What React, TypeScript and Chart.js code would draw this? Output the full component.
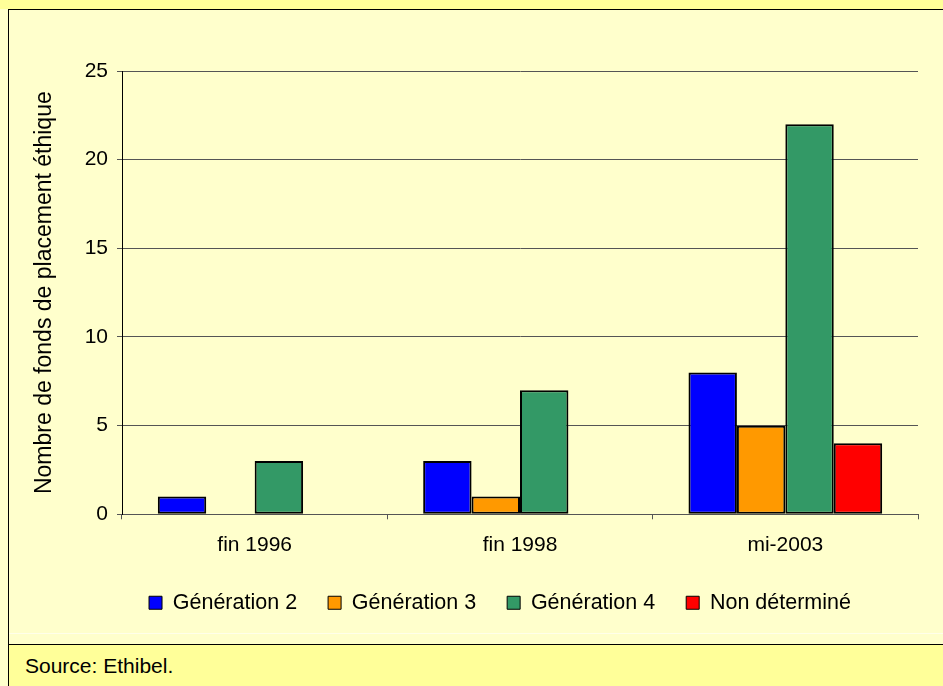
import React, { useEffect, useRef } from "react";
import { Chart, registerables } from "chart.js";

Chart.register(...registerables);

const categories = ["fin 1996", "fin 1998", "mi-2003"];
const generation2 = [1, 3, 8];
const generation3 = [null, 1, 5];
const generation4 = [3, 7, 22];
const nonDetermine = [null, null, 4];
const seriesNames = ["Génération 2", "Génération 3", "Génération 4", "Non déterminé"];
const seriesColors = ["#0000FF", "#FF9900", "#339966", "#FF0000"];
const yTitle = "Nombre de fonds de placement éthique";
const sourceText = "Source: Ethibel.";

const FONT = "'Liberation Sans', Arial, Helvetica, sans-serif";

export default function App() {
  const ref = useRef<HTMLCanvasElement | null>(null);

  useEffect(() => {
    if (!ref.current) return;
    const values = [generation2, generation3, generation4, nonDetermine];
    const padLeft = 73;
    const chart = new Chart(ref.current, {
      type: "bar",
      data: {
        labels: categories,
        datasets: values.map((v, i) => ({
          label: seriesNames[i],
          data: v as any,
          backgroundColor: seriesColors[i],
          borderColor: "#000000",
          borderWidth: 2,
          borderSkipped: false,
          barPercentage: 1,
          categoryPercentage: 0.73,
        })),
      },
      options: {
        animation: false,
        responsive: false,
        maintainAspectRatio: false,
        devicePixelRatio: 1,
        layout: { padding: { left: padLeft, right: 25, top: 61, bottom: 19.5 } },
        plugins: {
          tooltip: { enabled: false },
          legend: {
            position: "bottom",
            labels: {
              color: "#000",
              font: { family: FONT, size: 21.5 },
              boxWidth: 13,
              boxHeight: 13,
              padding: 31,
              generateLabels: (c: any) =>
                Chart.defaults.plugins.legend.labels
                  .generateLabels(c)
                  .map((l: any) => ({ ...l, lineWidth: 1 })),
            },
          },
        },
        scales: {
          x: {
            offset: true,
            afterFit: (s: any) => {
              s.height = s.height - 9.5;
            },
            grid: {
              display: true,
              drawOnChartArea: false,
              drawTicks: true,
              tickLength: 5,
              color: "#555555",
            },
            border: { display: true, color: "#555555", width: 1 },
            ticks: {
              color: "#000",
              font: { family: FONT, size: 21 },
              padding: 13,
              maxRotation: 0,
            },
          },
          y: {
            min: 0,
            max: 25,
            afterFit: (s: any) => {
              s.width = 113 - padLeft;
            },
            grid: {
              color: "#555555",
              tickLength: 5,
              drawTicks: true,
            },
            border: { display: true, color: "#000000", width: 1 },
            ticks: {
              stepSize: 5,
              color: "#000",
              padding: 9,
              font: { family: FONT, size: 21 },
            },
            title: {
              display: true,
              text: yTitle,
              color: "#000",
              font: { family: FONT, size: 23, weight: "normal" },
              padding: { top: 36 - padLeft - 13.8, bottom: 0 },
            },
          },
        },
      },
    });
    return () => chart.destroy();
  }, []);

  return (
    <div
      style={{
        position: "absolute",
        left: 0,
        top: 0,
        width: 943,
        height: 686,
        background: "#FFFFCC",
        overflow: "hidden",
        fontFamily: FONT,
      }}
    >
      <div style={{ position: "absolute", left: 0, top: 0, width: 943, height: 9, background: "#FFFF99" }} />
      <div style={{ position: "absolute", left: 8, top: 9, width: 935, height: 1, background: "#000" }} />
      <div style={{ position: "absolute", left: 8, top: 9, width: 1, height: 677, background: "#000" }} />
      <div style={{ position: "absolute", left: 9, top: 633, width: 934, height: 1, background: "#FFFFEA" }} />
      <div style={{ position: "absolute", left: 8, top: 644, width: 935, height: 1, background: "#000" }} />
      <div
        style={{
          position: "absolute",
          left: 9,
          top: 645,
          width: 934,
          height: 41,
          background: "#FFFF99",
        }}
      >
        <div
          style={{
            position: "absolute",
            left: 16,
            top: 10,
            fontSize: 21,
            lineHeight: "22px",
            color: "#000",
            fontFamily: FONT,
            whiteSpace: "nowrap",
          }}
        >
          {sourceText}
        </div>
      </div>
      <canvas
        ref={ref}
        width={934}
        height={633}
        style={{ position: "absolute", left: 9, top: 10, width: 934, height: 633 }}
      />
    </div>
  );
}
